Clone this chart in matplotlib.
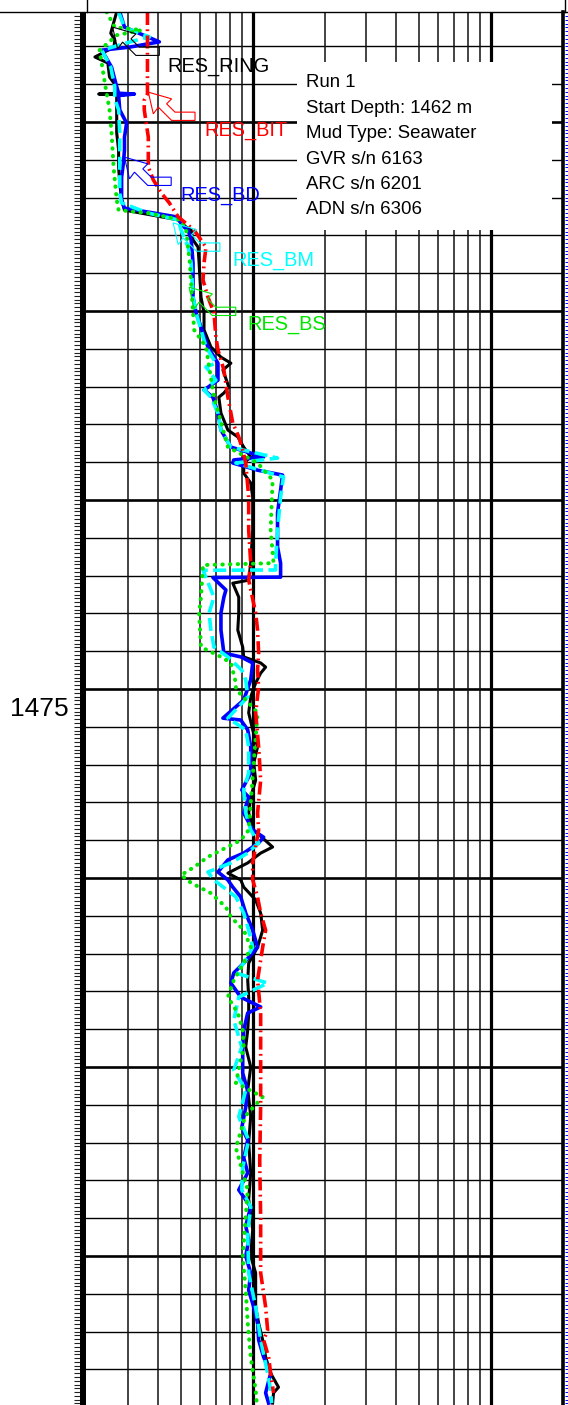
import matplotlib
matplotlib.use("Agg")
import matplotlib.pyplot as plt
import matplotlib.transforms as mtransforms
from matplotlib.patches import Polygon, Rectangle
import numpy as np

plt.rcParams['font.family'] = ['Liberation Sans', 'DejaVu Sans']

# ---------------- data ----------------
ring_depth = [1457.09, 1457.38, 1457.65, 1457.83, 1458.02, 1458.28, 1458.44, 1458.81, 1459.07, 1459.24,
              1459.26, 1459.28, 1459.30, 1459.68, 1460.29, 1460.74, 1461.19, 1461.61, 1462.06, 1462.33,
              1462.46, 1462.59, 1462.78, 1462.86, 1463.12, 1463.31, 1463.73, 1464.63, 1465.05, 1465.50,
              1465.95, 1466.22, 1466.38, 1466.56, 1467.01, 1467.17, 1467.28, 1467.70, 1468.15, 1468.33,
              1468.60, 1468.86, 1469.02, 1469.29, 1469.55, 1469.92, 1470.79, 1471.67, 1472.12, 1472.20,
              1472.57, 1472.99, 1473.44, 1473.89, 1474.15, 1474.31, 1474.42, 1474.58, 1474.84, 1475.21,
              1475.63, 1476.08, 1476.53, 1476.96, 1477.41, 1477.86, 1478.28, 1478.73, 1479.18, 1479.34,
              1479.60, 1479.87, 1480.05, 1480.24, 1480.58, 1480.93, 1481.38, 1481.83, 1482.25, 1482.70,
              1483.15, 1483.57, 1484.02, 1484.47, 1485.00, 1485.60, 1486.30, 1487.00, 1487.80, 1488.50,
              1489.30, 1490.00, 1490.45, 1491.35, 1491.77, 1492.22, 1492.67, 1493.10, 1493.47, 1493.62,
              1493.89]
ring_val = [0.269, 0.261, 0.254, 0.264, 0.262, 0.218, 0.247, 0.251, 0.269, 0.269,
            0.226, 0.290, 0.269, 0.269, 0.269, 0.274, 0.274, 0.277, 0.282, 0.290,
            0.376, 0.487, 0.526, 0.552, 0.562, 0.590, 0.596, 0.607, 0.625, 0.625,
            0.668, 0.736, 0.810, 0.750, 0.794, 0.757, 0.721, 0.736, 0.787, 0.866,
            0.917, 0.981, 0.917, 0.917, 0.981, 1.000, 1.000, 0.981, 0.962, 0.825,
            0.874, 0.874, 0.866, 0.908, 0.917, 1.080, 1.133, 1.080, 1.029, 0.981,
            0.962, 1.000, 1.048, 1.010, 1.029, 0.981, 0.962, 1.010, 1.212, 1.080,
            0.953, 0.787, 0.891, 0.917, 1.029, 1.080, 1.101, 1.048, 0.962, 0.953,
            0.962, 0.962, 0.953, 0.935, 0.981, 0.953, 0.981, 0.962, 0.981, 0.962,
            1.000, 0.981, 1.029, 1.029, 1.059, 1.101, 1.133, 1.189, 1.283, 1.223,
            1.212]

bd_depth = [1457.09, 1457.49, 1457.88, 1458.02, 1458.10, 1458.55, 1459.07, 1459.24, 1459.26, 1459.30,
            1459.68, 1460.03, 1460.40, 1460.74, 1461.08, 1461.46, 1462.06, 1462.28, 1462.41, 1462.51,
            1462.78, 1462.86, 1463.12, 1463.73, 1464.63, 1465.05, 1465.95, 1466.38, 1466.83, 1467.09,
            1467.28, 1467.70, 1468.15, 1468.60, 1468.86, 1468.94, 1469.02, 1469.21, 1469.34, 1469.74,
            1470.34, 1471.24, 1471.67, 1472.04, 1472.05, 1472.38, 1472.57, 1472.99, 1473.44, 1474.05,
            1474.15, 1474.31, 1474.76, 1475.29, 1475.77, 1475.82, 1476.08, 1476.53, 1477.22, 1477.67,
            1477.86, 1478.28, 1478.73, 1478.92, 1479.07, 1479.34, 1479.52, 1479.84, 1480.05, 1480.24,
            1480.50, 1480.93, 1481.38, 1481.83, 1482.25, 1482.51, 1482.78, 1483.15, 1483.41, 1483.57,
            1484.02, 1484.47, 1485.16, 1485.60, 1486.06, 1486.60, 1486.93, 1487.40, 1487.80, 1488.25,
            1488.70, 1489.20, 1489.58, 1490.00, 1490.45, 1490.90, 1491.35, 1491.80, 1492.22, 1492.67,
            1493.10, 1493.62, 1493.89]
bd_val = [0.277, 0.290, 0.406, 0.304, 0.233, 0.256, 0.269, 0.274, 0.319, 0.274,
          0.277, 0.296, 0.290, 0.290, 0.287, 0.282, 0.282, 0.290, 0.387, 0.478,
          0.516, 0.536, 0.552, 0.562, 0.562, 0.579, 0.649, 0.715, 0.715, 0.625,
          0.681, 0.715, 0.736, 0.810, 1.111, 0.833, 0.825, 1.048, 1.334, 1.309,
          1.271, 1.271, 1.309, 1.309, 0.681, 0.772, 0.757, 0.736, 0.736, 0.757,
          0.891, 1.000, 0.981, 0.917, 0.750, 0.891, 0.953, 0.981, 0.981, 0.900,
          0.962, 0.917, 1.000, 1.111, 1.059, 0.917, 0.787, 0.715, 0.787, 0.825,
          0.891, 0.935, 1.000, 1.048, 0.917, 0.833, 0.810, 0.891, 1.080, 0.953,
          0.917, 0.908, 0.908, 0.950, 0.935, 0.900, 0.953, 0.917, 0.953, 0.874,
          0.981, 0.935, 0.962, 0.935, 0.981, 0.962, 1.010, 1.050, 1.059, 1.111,
          1.189, 1.133, 1.166]

bm_depth = [1457.09, 1457.50, 1457.75, 1457.85, 1458.10, 1458.55, 1459.07, 1459.39, 1459.68, 1460.29,
            1461.19, 1461.88, 1462.14, 1462.41, 1462.59, 1462.86, 1463.31, 1463.73, 1464.63, 1465.05,
            1465.95, 1466.38, 1466.48, 1466.83, 1467.09, 1467.28, 1467.70, 1468.15, 1468.60, 1468.89,
            1469.02, 1469.39, 1469.92, 1470.79, 1471.67, 1471.85, 1471.86, 1472.57, 1472.99, 1473.44,
            1473.89, 1474.15, 1474.50, 1474.76, 1475.21, 1475.77, 1476.08, 1476.53, 1477.22, 1477.67,
            1478.28, 1478.73, 1479.07, 1479.34, 1479.60, 1479.84, 1480.05, 1480.50, 1480.93, 1481.38,
            1481.83, 1482.25, 1482.51, 1482.78, 1483.15, 1483.76, 1484.47, 1485.08, 1485.61, 1486.32,
            1486.93, 1487.65, 1488.25, 1488.70, 1489.39, 1490.45, 1491.35, 1492.22, 1493.10, 1493.55,
            1493.89]
bm_val = [0.274, 0.290, 0.369, 0.319, 0.233, 0.254, 0.264, 0.264, 0.274, 0.277,
          0.277, 0.277, 0.282, 0.365, 0.487, 0.501, 0.536, 0.552, 0.562, 0.579,
          0.637, 0.701, 0.637, 0.701, 0.625, 0.668, 0.715, 0.736, 0.810, 1.271,
          0.850, 1.346, 1.309, 1.271, 1.247, 1.247, 0.619, 0.688, 0.656, 0.668,
          0.688, 0.787, 0.900, 0.935, 0.953, 0.787, 0.935, 0.962, 0.962, 0.917,
          0.935, 0.981, 1.059, 0.953, 0.810, 0.649, 0.688, 0.850, 0.917, 0.962,
          1.000, 0.917, 0.850, 1.155, 0.874, 0.833, 0.900, 0.833, 0.935, 0.874,
          0.962, 0.908, 0.900, 0.981, 0.953, 0.962, 1.029, 1.080, 1.155, 1.189,
          1.200]

bs_depth = [1457.09, 1457.49, 1457.57, 1457.70, 1458.10, 1458.97, 1459.68, 1460.29, 1461.19, 1462.06,
            1462.33, 1462.41, 1462.59, 1462.86, 1463.73, 1465.50, 1465.95, 1467.28, 1468.60, 1469.02,
            1469.47, 1470.79, 1471.67, 1471.72, 1472.57, 1472.99, 1473.89, 1474.15, 1474.31, 1474.84,
            1475.00, 1475.63, 1476.96, 1478.73, 1479.00, 1479.44, 1479.71, 1479.92, 1480.13, 1480.40,
            1480.77, 1481.03, 1481.38, 1481.83, 1482.25, 1482.70, 1483.15, 1483.57, 1484.02, 1484.47,
            1485.42, 1485.79, 1486.30, 1487.14, 1488.25, 1490.03, 1490.90, 1491.77, 1492.67, 1493.55,
            1493.89]
bs_val = [0.244, 0.264, 0.342, 0.270, 0.228, 0.240, 0.251, 0.256, 0.261, 0.269,
          0.274, 0.365, 0.501, 0.526, 0.545, 0.568, 0.637, 0.688, 0.787, 1.048,
          1.212, 1.189, 1.223, 0.619, 0.607, 0.596, 0.607, 0.736, 0.810, 0.850,
          0.850, 1.048, 1.010, 0.962, 0.891, 0.649, 0.568, 0.501, 0.552, 0.668,
          0.772, 0.810, 0.917, 0.981, 0.917, 0.833, 0.787, 0.866, 0.908, 0.917,
          0.850, 1.101, 0.930, 0.850, 0.953, 0.908, 0.935, 0.953, 0.981, 1.029,
          1.040]

bit_depth = [1457.09, 1459.26, 1459.42, 1459.68, 1460.40, 1461.19, 1461.53, 1461.88, 1462.14, 1462.51,
             1462.86, 1463.31, 1463.73, 1464.18, 1464.63, 1465.05, 1465.69, 1466.03, 1466.56, 1467.28,
             1467.96, 1468.33, 1468.68, 1469.02, 1469.92, 1470.79, 1471.67, 1472.12, 1472.99, 1473.44,
             1474.05, 1474.50, 1474.95, 1475.63, 1476.53, 1477.41, 1478.28, 1478.73, 1479.60, 1480.05,
             1480.50, 1480.93, 1481.38, 1481.83, 1482.70, 1483.57, 1484.47, 1486.00, 1487.50, 1489.00,
             1490.45, 1491.35, 1491.96, 1492.22, 1492.67, 1493.10, 1493.62]
bit_val = [0.362, 0.362, 0.351, 0.351, 0.365, 0.365, 0.383, 0.414, 0.447, 0.487,
           0.568, 0.637, 0.625, 0.619, 0.649, 0.688, 0.701, 0.715, 0.757, 0.787,
           0.825, 0.874, 0.908, 0.935, 0.962, 0.962, 0.981, 0.962, 1.029, 1.048,
           1.059, 1.048, 1.059, 1.029, 1.059, 1.080, 1.048, 1.059, 1.000, 1.000,
           1.048, 1.080, 1.133, 1.101, 1.048, 1.080, 1.080, 1.080, 1.070, 1.080,
           1.080, 1.133, 1.155, 1.111, 1.166, 1.189, 1.223]

curve_names = ["RES_RING", "RES_BIT", "RES_BD", "RES_BM", "RES_BS"]
info_lines = ["Run 1", "Start Depth: 1462 m", "Mud Type: Seawater",
              "GVR s/n 6163", "ARC s/n 6201", "ADN s/n 6306"]
depth_label = "1475"

# ---------------- figure ----------------
W, H = 568, 1405
fig = plt.figure(figsize=(W / 100, H / 100), dpi=100)
ax_l, ax_r, ax_t = 86, 563, 12
ax = fig.add_axes([ax_l / W, 0, (ax_r - ax_l) / W, (H - ax_t) / H])
ax.set_xscale('log')
ax.set_xlim(0.2, 20)
ax.set_ylim(1493.94, 1457.09)
ax.set_xticks([]); ax.set_yticks([])
ax.minorticks_off()
ax.xaxis.set_minor_locator(matplotlib.ticker.NullLocator())
for s in ['top', 'bottom', 'left']:
    ax.spines[s].set_visible(False)
ax.spines['right'].set_linewidth(2.6)

# grid
for d in range(1458, 1494):
    thick = (d % 5 == 0)
    ax.axhline(d, color='black', lw=1.9 if thick else 1.0, zorder=1)
for v in [0.3, 0.4, 0.5, 0.6, 0.7, 0.8, 0.9, 2, 3, 4, 5, 6, 7, 8, 9]:
    ax.axvline(v, color='#111111', lw=1.1, zorder=1)
for v in [1, 10]:
    ax.axvline(v, color='black', lw=2.3, zorder=1)

# info box
ftrans = fig.transFigure
def fx(px): return px / W
def fy(py): return 1 - py / H
fig.add_artist(Rectangle((fx(297), fy(230)), fx(552) - fx(297), fy(62) - fy(230),
                         transform=ftrans, facecolor='white', edgecolor='none', zorder=2))

# curves
ax.plot(ring_val, ring_depth, color='black', lw=2.2, zorder=4)
ax.plot(bd_val, bd_depth, color='#0000FF', lw=2.6, zorder=5)
ax.plot(bm_val, bm_depth, color='#00FFFF', lw=2.6, ls=(0, (3.6, 1.5)), zorder=6)
ax.plot(bs_val, bs_depth, color='#00E600', lw=2.9, ls=(0, (0.1, 1.8)),
        dash_capstyle='round', zorder=6)
ax.plot(bit_val, bit_depth, color='#FF0000', lw=2.6, ls=(0, (3.6, 1.2, 0.5, 1.2)), zorder=7)

# callouts
shape = np.array([(0, 0), (23.3, 6.7), (18.3, 11.7), (26.7, 20), (46.7, 20), (46.7, 28.3),
                  (23.3, 28.3), (10, 15), (5, 21.7), (0, 0)])
verts = np.column_stack([shape[:, 0] / 100.0, -shape[:, 1] / 100.0])
tips = [(0.2586, 1457.49, 'black'), (0.365, 1459.21, '#FF0000'), (0.290, 1460.93, '#0000FF'),
        (0.464, 1462.67, '#00FFFF'), (0.541, 1464.37, '#00E600')]
for v, d, c in tips:
    tr = fig.dpi_scale_trans + mtransforms.ScaledTranslation(v, d, ax.transData)
    fig.add_artist(Polygon(verts, closed=True, fill=False, edgecolor=c, lw=0.8,
                           transform=tr, zorder=8))

# curve labels
label_pos = [(167, 72, 'black'), (204, 136, '#FF0000'), (180, 201, '#0000FF'),
             (232, 266, '#00FFFF'), (247, 330, '#00E600')]
for name, (px, py, c) in zip(curve_names, label_pos):
    fig.text(fx(px), fy(py), name, color=c, fontsize=14.4, ha='left', va='baseline', zorder=9)

# info text
for i, t in enumerate(info_lines):
    fig.text(fx(306), fy(87.3 + 25.4 * i), t, fontsize=13.4, ha='left', va='baseline', zorder=9)

# depth label
fig.text(fx(69), fy(716), depth_label, fontsize=19, ha='right', va='baseline')

# left thick spine and depth ticks
fig.add_artist(Rectangle((fx(80), 0), fx(86) - fx(80), fy(ax_t), transform=ftrans,
                         facecolor='black', edgecolor='none'))
btr = mtransforms.blended_transform_factory(ftrans, ax.transData)
tick_d = np.arange(1457.2, 1494.0, 0.1)
ax.hlines(tick_d, fx(74), fx(80), transform=btr, colors='#222222', lw=0.8, clip_on=False)
ax.hlines(tick_d, fx(565), fx(568), transform=btr, colors='#0000FF', lw=0.7, clip_on=False)

# header lines
fig.add_artist(matplotlib.lines.Line2D([0, 1], [fy(12), fy(12)], transform=ftrans,
                                       color='black', lw=1.0))
for px in [86.5, 565]:
    fig.add_artist(matplotlib.lines.Line2D([fx(px), fx(px)], [1, fy(12)], transform=ftrans,
                                           color='black', lw=1.0))

fig.savefig("out.png", dpi=100)
